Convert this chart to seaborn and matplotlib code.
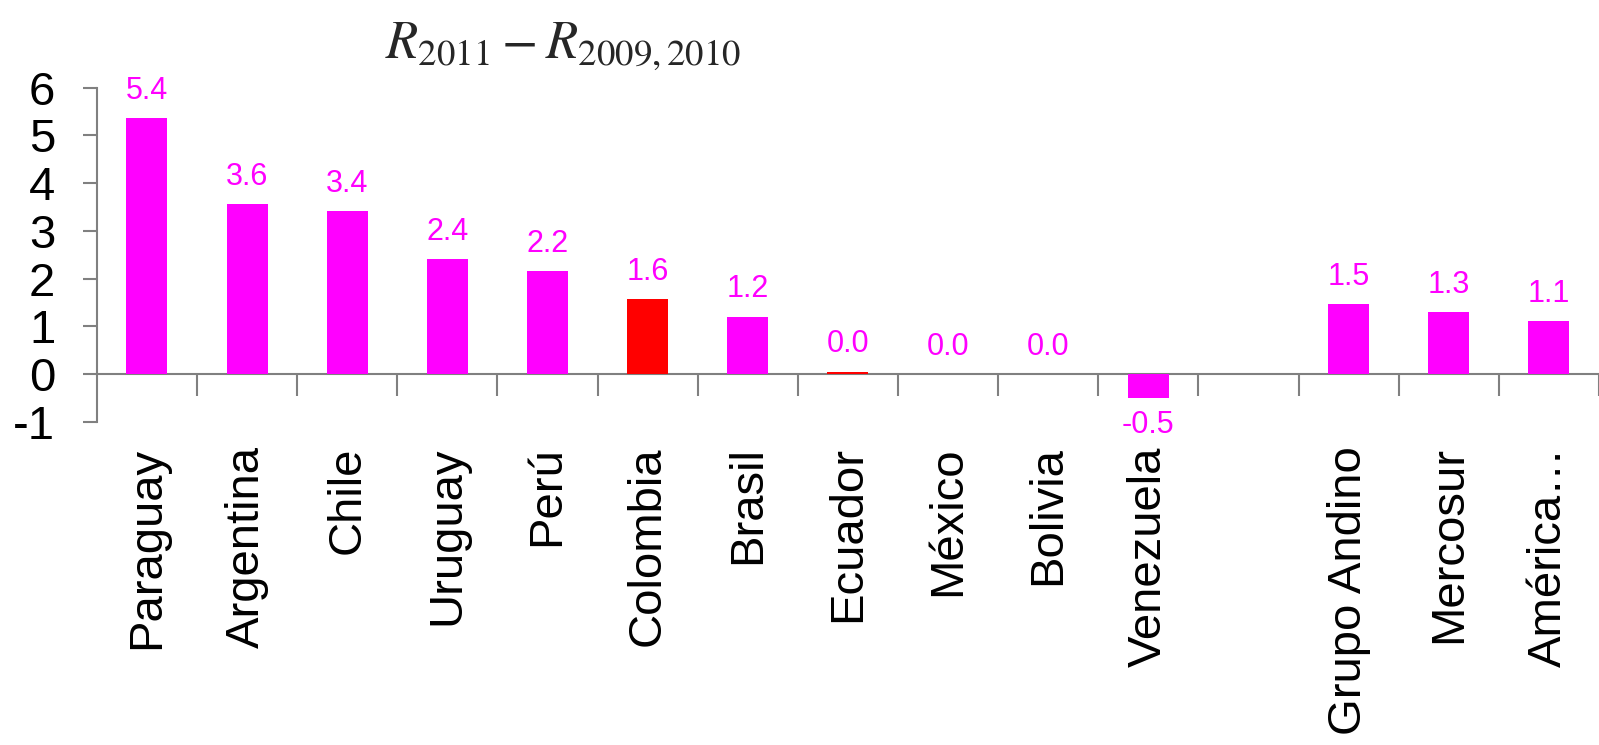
import matplotlib
matplotlib.use("Agg")
import matplotlib.pyplot as plt
import numpy as np
import pandas as pd
import seaborn as sns

# datos (la casilla vacía separa los grupos)
paises = ["Paraguay", "Argentina", "Chile", "Uruguay", "Perú", "Colombia",
          "Brasil", "Ecuador", "México", "Bolivia", "Venezuela", " ",
          "Grupo Andino", "Mercosur", "América…"]
valores = [5.36, 3.56, 3.41, 2.41, 2.16, 1.57, 1.2, 0.049, 0.0, 0.0, -0.49,
           np.nan, 1.46, 1.3, 1.11]
colores = ["#FF00FF", "#FF00FF", "#FF00FF", "#FF00FF", "#FF00FF", "#FF0000",
           "#FF00FF", "#FF0000", "#FF00FF", "#FF00FF", "#FF00FF", "#FF00FF",
           "#FF00FF", "#FF00FF", "#FF00FF"]

MAGENTA = "#FF00FF"
GRIS = "#808080"


def crear_grafico():
    sns.set_style("white")
    plt.rcParams["font.family"] = ["Liberation Sans", "DejaVu Sans"]
    plt.rcParams["axes.unicode_minus"] = False

    df = pd.DataFrame({"pais": paises, "valor": valores})
    fig = plt.figure(figsize=(15.99, 7.45), dpi=100)
    ax = fig.add_axes([0.0606, 0.4336, 0.9394, 0.4487])

    sns.barplot(data=df, x="pais", y="valor", order=paises, hue="pais",
                hue_order=paises, palette=dict(zip(paises, colores)),
                legend=False, width=0.41, saturation=1, linewidth=0, ax=ax)

    for cont in ax.containers:
        ax.bar_label(cont, fmt="%.1f", padding=9, color=MAGENTA, fontsize=22)

    ax.set_ylim(-1, 6)
    ax.set_xlim(-0.5, 14.39)
    ax.set_yticks(range(-1, 7))
    ax.set_xlabel("")
    ax.set_ylabel("")

    # ejes grises: eje x sobre el cero, por debajo de las barras
    for lado in ["top", "right"]:
        ax.spines[lado].set_visible(False)
    ax.spines["bottom"].set_position(("data", 0))
    for lado in ["left", "bottom"]:
        ax.spines[lado].set_color(GRIS)
        ax.spines[lado].set_linewidth(1.5)
    ax.spines["bottom"].set_zorder(0.5)

    ax.set_xticks(range(len(paises)))
    ax.set_xticklabels([p.strip() for p in paises], rotation=90)
    ax.set_xticks(np.arange(len(paises)) + 0.5, minor=True)
    ax.tick_params(axis="x", which="major", length=0, pad=52, labelsize=34,
                   labelcolor="black")
    ax.tick_params(axis="x", which="minor", bottom=True, length=16, width=1.5,
                   color=GRIS, direction="out")
    ax.tick_params(axis="y", length=10, width=1.5, color=GRIS, pad=20,
                   labelsize=34, left=True, labelcolor="black")
    ax.grid(False)

    fig.text(0.352, 0.938, r"$R_{2011} - R_{2009,2010}$", fontsize=38,
             ha="center", va="center", math_fontfamily="stix")

    fig.savefig("out.png", dpi=100)


if __name__ == "__main__":
    crear_grafico()
